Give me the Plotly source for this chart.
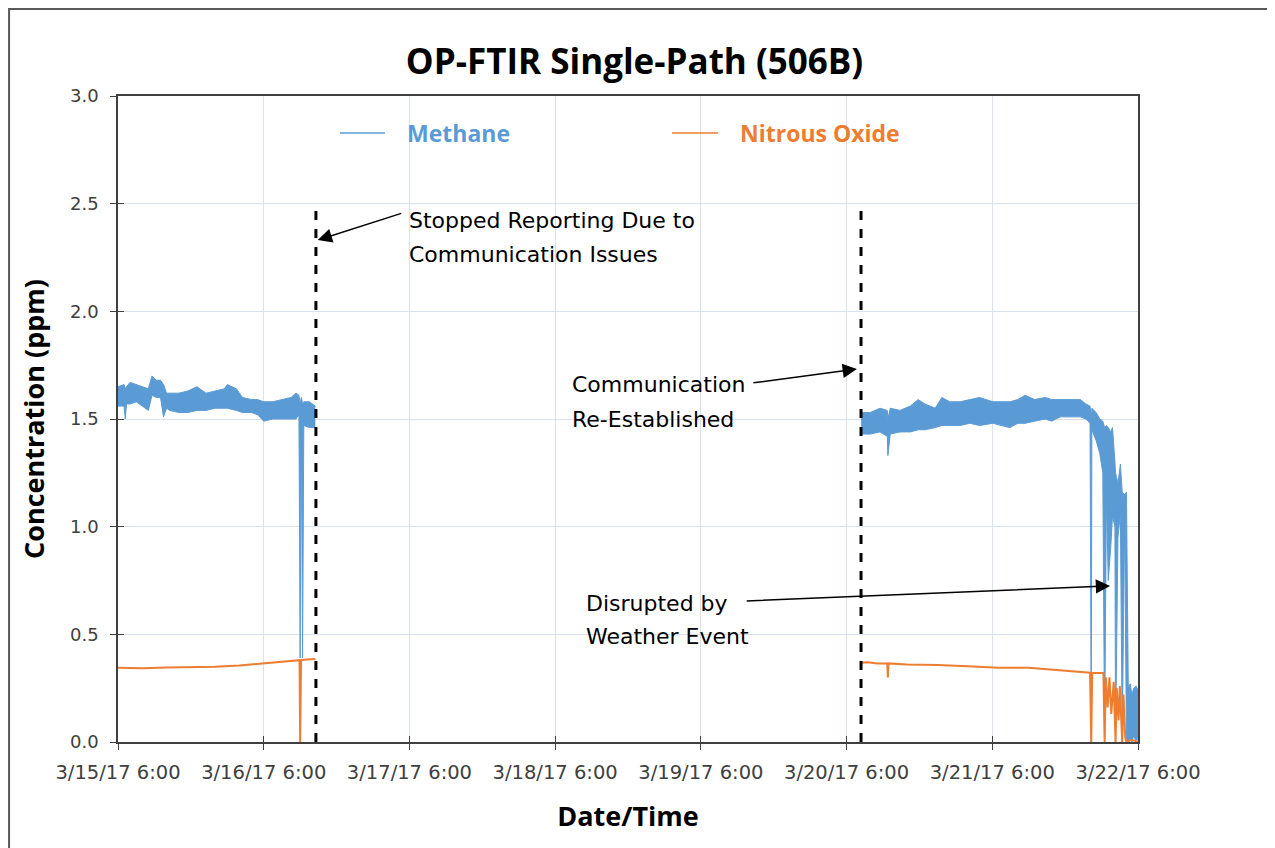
import pandas as pd
import plotly.graph_objects as go

# ---------------- data (hours after 3/15/17 6:00) ----------------
base_time = pd.Timestamp("2017-03-15 06:00")

# Methane, first period: envelope of the noisy trace (upper / lower)
m1_hours = [0.0, 1.0, 1.2, 1.4, 2.0, 3.0, 4.0, 5.0, 5.6, 6.3, 7.0, 7.5, 8.0, 8.5, 10.0,
            11.5, 13.0, 14.5, 16.0, 17.5, 18.0, 19.5, 20.5, 22.0, 23.0, 24.0, 25.5, 27.0,
            28.5, 29.3, 29.8, 30.0, 30.2, 30.4, 30.6, 31.5, 32.5]
m1_hi = [1.65, 1.66, 1.64, 1.65, 1.67, 1.66, 1.65, 1.64, 1.70, 1.68, 1.68, 1.66, 1.62, 1.62, 1.62,
         1.63, 1.65, 1.62, 1.63, 1.64, 1.66, 1.64, 1.60, 1.59, 1.59, 1.58, 1.58, 1.59,
         1.60, 1.62, 1.61, 1.57, 1.60, 1.57, 1.58, 1.58, 1.56]
m1_lo = [1.56, 1.56, 1.50, 1.57, 1.57, 1.58, 1.56, 1.54, 1.61, 1.60, 1.60, 1.51, 1.55, 1.54, 1.53,
         1.53, 1.54, 1.54, 1.55, 1.55, 1.55, 1.54, 1.53, 1.53, 1.52, 1.49, 1.50, 1.50,
         1.50, 1.50, 1.52, 0.39, 1.52, 0.39, 1.47, 1.46, 1.46]

# Methane, second period
m2_hours = [122.4, 123.9, 125.5, 126.7, 126.8, 127.2, 128.8, 130.5, 131.8, 132.9, 134.6, 135.7,
            137.0, 138.7, 140.3, 141.9, 144.1, 145.3, 146.9, 148.2, 149.4, 151.0, 152.7, 153.8,
            155.2, 156.8, 158.5, 159.4, 160.1, 160.3, 160.4, 161.1, 161.7, 162.2, 162.5, 162.8,
            163.1, 163.5, 163.8, 164.2, 164.3, 164.7, 165.1, 165.4, 165.8, 166.1, 166.4, 166.7,
            167.0, 167.3, 167.7, 168.0]
m2_hi = [1.53, 1.53, 1.55, 1.54, 1.50, 1.55, 1.54, 1.56, 1.59, 1.57, 1.55, 1.60,
         1.58, 1.58, 1.59, 1.60, 1.58, 1.58, 1.58, 1.59, 1.61, 1.59, 1.60, 1.59,
         1.59, 1.59, 1.59, 1.57, 1.56, 1.50, 1.55, 1.53, 1.50, 1.49, 1.46, 1.47,
         1.46, 1.44, 1.46, 1.30, 1.25, 1.20, 1.29, 1.16, 1.15, 1.16, 0.25, 0.27,
         0.22, 0.25, 0.26, 0.24]
m2_lo = [1.43, 1.43, 1.44, 1.42, 1.33, 1.43, 1.44, 1.44, 1.45, 1.45, 1.46, 1.47,
         1.47, 1.47, 1.48, 1.47, 1.48, 1.47, 1.46, 1.48, 1.48, 1.49, 1.50, 1.49,
         1.51, 1.51, 1.51, 1.50, 1.48, 0.0, 1.45, 1.40, 1.34, 1.25, 0.0, 1.15,
         0.75, 0.90, 1.05, 1.00, 0.0, 0.95, 1.06, 0.0, 1.05, 0.0, 0.0, 0.02,
         0.0, 0.03, 0.0, 0.02]

# Nitrous oxide
n1_hours = [0, 4, 8, 12, 16, 20, 22, 24, 26, 28, 29.9, 30.0, 30.15, 31, 32.5]
n1_vals = [0.345, 0.343, 0.346, 0.347, 0.350, 0.355, 0.360, 0.366, 0.370, 0.374, 0.380, 0.0,
           0.380, 0.383, 0.385]
n2_hours = [122.4, 123.5, 125, 126.7, 126.8, 126.9, 130, 135, 140, 145, 150, 152, 155, 158,
            160.1, 160.3, 160.45, 162.3, 162.5, 162.7, 163.0, 163.3, 163.6, 164.0, 164.3,
            164.5, 164.8, 165.0, 165.4, 165.6, 165.9, 166.1, 167, 168]
n2_vals = [0.368, 0.370, 0.365, 0.365, 0.30, 0.365, 0.360, 0.358, 0.352, 0.345, 0.345, 0.340,
           0.335, 0.325, 0.322, 0.0, 0.320, 0.320, 0.0, 0.30, 0.16, 0.30, 0.13, 0.28, 0.0,
           0.25, 0.10, 0.26, 0.0, 0.22, 0.02, 0.0, 0.01, 0.0]

# Event markers (hours)
stop_hour = 32.6
resume_hour = 122.38
marker_top = 2.48

tick_days = [0, 1, 2, 3, 4, 5, 6, 7]

series_names = ["Methane", "Nitrous Oxide"]
colors = {"Methane": "#5B9BD5", "Nitrous Oxide": "#ED7D31"}


def T(hours):
    return base_time + pd.to_timedelta(pd.Series(hours, dtype=float), unit="h")


fig = go.Figure()

blue = colors["Methane"]
orange = colors["Nitrous Oxide"]

for hrs, hi, lo in [(m1_hours, m1_hi, m1_lo), (m2_hours, m2_hi, m2_lo)]:
    t = T(hrs)
    fig.add_trace(go.Scatter(x=t, y=lo, mode="lines", line=dict(color=blue, width=1),
                             showlegend=False, hoverinfo="skip"))
    fig.add_trace(go.Scatter(x=t, y=hi, mode="lines", line=dict(color=blue, width=1),
                             fill="tonexty", fillcolor=blue, showlegend=False,
                             name="Methane"))

for hrs, vals in [(n1_hours, n1_vals), (n2_hours, n2_vals)]:
    fig.add_trace(go.Scatter(x=T(hrs), y=vals, mode="lines",
                             line=dict(color=orange, width=2), showlegend=False,
                             name="Nitrous Oxide"))

tickvals = [base_time + pd.Timedelta(days=d) for d in tick_days]
ticktext = [f"{t.month}/{t.day}/{t.strftime('%y')} {t.hour}:{t.strftime('%M')}" for t in tickvals]
x_range = [tickvals[0], tickvals[-1]]

# invisible helper trace so the overlay axes (inner half of crossing ticks) are drawn
fig.add_trace(go.Scatter(x=x_range, y=[None, None], xaxis="x2", yaxis="y2", mode="lines",
                         showlegend=False, hoverinfo="skip", line=dict(width=0)))

# dashed event lines
for h in [stop_hour, resume_hour]:
    xt = base_time + pd.Timedelta(hours=h)
    fig.add_shape(type="line", xref="x", yref="y", x0=xt, x1=xt, y0=0, y1=marker_top,
                  line=dict(color="black", width=3, dash="dash"))

# outer chart border
fig.add_shape(type="rect", xref="paper", yref="paper", x0=-0.1068, x1=1.1314,
              y0=-0.25, y1=1.1347, line=dict(color="#595959", width=2), layer="below")

txt_font = dict(family="DejaVu Sans", size=22, color="black")


def ann_text(h, y, s):
    fig.add_annotation(x=base_time + pd.Timedelta(hours=h), y=y, xref="x", yref="y",
                       text=s, showarrow=False, xanchor="left", yanchor="middle",
                       font=txt_font)


def ann_arrow(h_tail, y_tail, h_head, y_head):
    fig.add_annotation(x=base_time + pd.Timedelta(hours=h_head), y=y_head,
                       ax=base_time + pd.Timedelta(hours=h_tail), ay=y_tail,
                       xref="x", yref="y", axref="x", ayref="y", text="",
                       showarrow=True, arrowhead=2, arrowsize=1.9, arrowwidth=1.5,
                       arrowcolor="black")


ann_text(47.6, 2.424, "Stopped Reporting Due to")
ann_text(47.6, 2.262, "Communication Issues")
ann_arrow(46.9, 2.457, 32.9, 2.331)

ann_text(74.45, 1.658, "Communication")
ann_text(74.45, 1.50, "Re-Established")
ann_arrow(104.4, 1.667, 121.7, 1.732)

ann_text(76.76, 0.6455, "Disrupted by")
ann_text(76.76, 0.492, "Weather Event")
ann_arrow(103.3, 0.655, 163.4, 0.725)

# manual legend
leg_y = 0.9427
for (x0, x1, xt, name) in [(0.2176, 0.2618, 0.2814, "Methane"),
                           (0.5431, 0.5882, 0.6078, "Nitrous Oxide")]:
    fig.add_shape(type="line", xref="paper", yref="paper", x0=x0, x1=x1, y0=leg_y, y1=leg_y,
                  line=dict(color=colors[name], width=1.5))
    fig.add_annotation(xref="paper", yref="paper", x=xt, y=leg_y, text="<b>%s</b>" % name,
                       showarrow=False, xanchor="left", yanchor="middle",
                       font=dict(family="Open Sans", size=23, color=colors[name]))

fig.update_layout(
    width=1267, height=840,
    margin=dict(l=110, r=137, t=88, b=106),
    paper_bgcolor="white", plot_bgcolor="white",
    title=dict(text="<b>OP-FTIR Single-Path (506B)</b>", x=0.4945, xanchor="center",
               y=0.9357, yanchor="middle",
               font=dict(family="Open Sans", size=35, color="black")),
    xaxis=dict(type="date", range=x_range, tickvals=tickvals,
               ticktext=ticktext, showgrid=True, gridcolor="#D9E1EC", gridwidth=1,
               showline=True, linecolor="#404040", linewidth=1.5, mirror=True,
               ticks="outside", ticklen=6, tickcolor="#404040", ticklabelstandoff=6,
               tickfont=dict(family="DejaVu Sans", size=19.5, color="#404040"),
               title=dict(text="<b>Date/Time</b>", standoff=24,
                          font=dict(family="Open Sans", size=27, color="black")),
               zeroline=False),
    yaxis=dict(range=[0, 3], dtick=0.5, tickformat=".1f", showgrid=True,
               gridcolor="#D9E1EC", gridwidth=1, showline=True, linecolor="#404040",
               linewidth=1.5, mirror=True, ticks="outside", ticklen=6, tickcolor="#404040",
               ticklabelstandoff=8,
               tickfont=dict(family="DejaVu Sans", size=18, color="#404040"),
               title=dict(text="<b>Concentration (ppm)</b>", standoff=18,
                          font=dict(family="Open Sans", size=27, color="black")),
               zeroline=False),
    # overlay axes drawing the inner half of the crossing tick marks
    xaxis2=dict(type="date", overlaying="x", side="bottom", range=x_range, tickvals=tickvals,
                ticks="inside", ticklen=6, tickcolor="#404040", showticklabels=False,
                showgrid=False, showline=False, zeroline=False),
    yaxis2=dict(overlaying="y", side="left", range=[0, 3], dtick=0.5, ticks="inside",
                ticklen=6, tickcolor="#404040", showticklabels=False, showgrid=False,
                showline=False, zeroline=False),
    showlegend=False,
)

fig.write_html("out.html")
